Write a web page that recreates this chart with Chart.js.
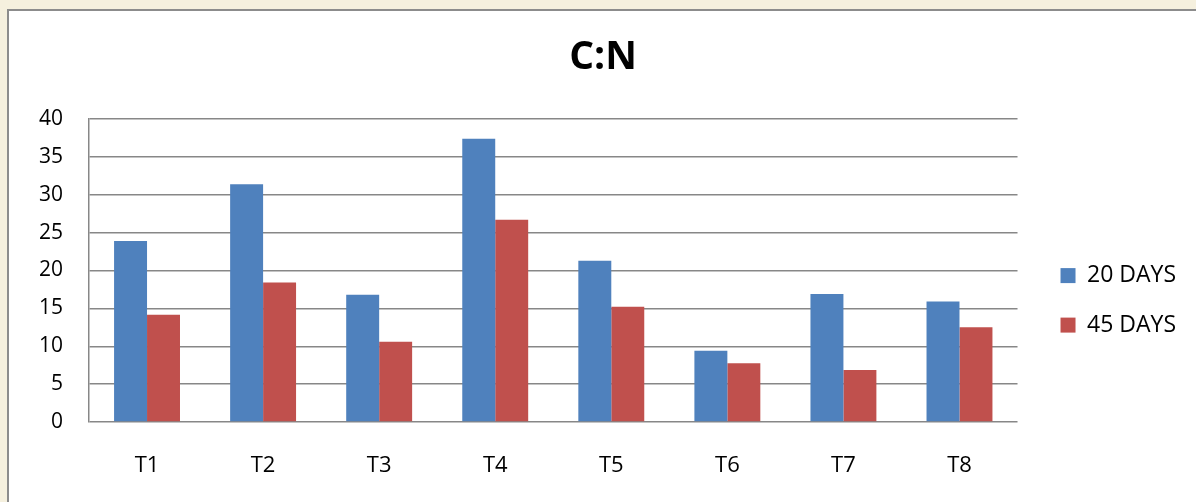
<!DOCTYPE html>
<html>
<head>
<meta charset="utf-8">
<script src="https://cdn.jsdelivr.net/npm/chart.js@4.4.1/dist/chart.umd.min.js"></script>
<style>
  html, body { margin: 0; padding: 0; }
  body { width: 1196px; height: 502px; overflow: hidden; background: #f5f0de; position: relative; }
  #frame { position: absolute; left: 7px; top: 9px; width: 1200px; height: 500px; background: #fff; border: 2px solid #8c8c8c; }
  #wrap { position: absolute; left: 0; top: 0; width: 1196px; height: 502px; }
</style>
</head>
<body>
<div id="frame"></div>
<div id="wrap"><canvas id="myChart"></canvas></div>
<script>
// C:N ratio per treatment
const categories = ['T1', 'T2', 'T3', 'T4', 'T5', 'T6', 'T7', 'T8'];
const days20 = [23.9, 31.4, 16.8, 37.4, 21.3, 9.4, 16.9, 15.9];
const days45 = [14.15, 18.4, 10.6, 26.7, 15.2, 7.75, 6.85, 12.5];
const yTicks = [0, 5, 10, 15, 20, 25, 30, 35, 40];

const font = 'Open Sans';

let ctx = document.getElementById('myChart').getContext('2d');
let chart = new Chart(ctx, {
    type: 'bar',
    data: {
        labels: categories,
        datasets: [{
            label: '20 DAYS',
            backgroundColor: '#4F81BD',
            data: days20,
            yAxisID: 'y'
        }, {
            label: '45 DAYS',
            backgroundColor: '#C0504D',
            data: days45,
            yAxisID: 'y'
        }]
    },
    options: {
        responsive: true,
        maintainAspectRatio: false,
        animation: false,
        categoryPercentage: 0.568,
        barPercentage: 1.0,
        layout: { padding: { left: 20, right: 10, top: 0, bottom: 25 } },
        plugins: {
            title: {
                display: true,
                text: 'C:N',
                color: '#000',
                font: { family: font, size: 39, weight: 'bold' },
                padding: { top: 34, bottom: 38.2 }
            },
            legend: {
                position: 'right',
                align: 'center',
                // empty title only pushes the two items down
                title: { display: true, text: ' ', font: { size: 1 }, padding: { top: 122.5, bottom: 0 } },
                labels: {
                    color: '#000',
                    boxWidth: 15,
                    boxHeight: 15,
                    padding: 26.5,
                    font: { family: font, size: 23 }
                }
            },
            tooltip: { enabled: false }
        },
        scales: {
            x: {
                afterFit: (s) => { s.height = 55; },
                grid: { display: false, drawTicks: false },
                border: { display: false },
                ticks: { color: '#000', padding: 31, font: { family: font, size: 22 } }
            },
            y: {
                min: 0,
                max: 40,
                afterFit: (s) => { s.width = 69; },
                afterBuildTicks: (s) => { s.ticks = yTicks.map(v => ({ value: v })); },
                grid: { color: '#878787', lineWidth: 1.5, drawTicks: false },
                border: { display: true, color: '#878787', width: 1.5 },
                ticks: { color: '#000', padding: 26, font: { family: font, size: 21 } }
            },
            y2: {
                position: 'right',
                display: true,
                afterFit: (s) => { s.width = 16.5; },
                grid: { display: false, drawTicks: false },
                border: { display: false },
                ticks: { display: false }
            }
        }
    }
});
</script>
</body>
</html>
